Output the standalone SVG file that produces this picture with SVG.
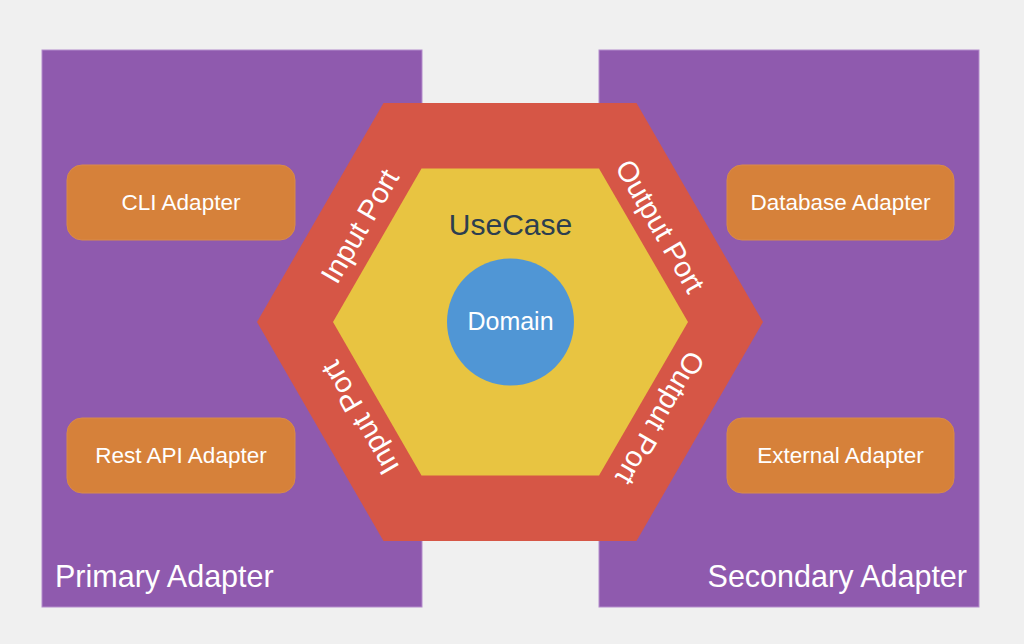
<svg xmlns="http://www.w3.org/2000/svg" width="1024" height="644" viewBox="0 0 1024 644">
  <style>
    text { font-family: "Liberation Sans", Arial, Helvetica, sans-serif; }
    .zone { fill: #8f5aae; stroke: #b48ccc; stroke-width: 1; }
    .zone-label { fill: #ffffff; font-size: 30.5px; }
    .adapter { fill: #d6813a; stroke: #d98a4a; stroke-width: 1; }
    .adapter-label { fill: #ffffff; font-size: 22.5px; text-anchor: middle; }
    .port { fill: #d65646; }
    .usecase { fill: #e8c441; }
    .domain { fill: #5096d5; }
    .port-label { fill: #ffffff; font-size: 29px; text-anchor: middle; }
  </style>
  <rect x="0" y="0" width="1024" height="644" fill="#f0f0f0"/>

  <g id="primary-adapter">
    <rect class="zone" x="42" y="50" width="380" height="557"/>
    <text class="zone-label" x="55" y="587">Primary Adapter</text>
  </g>
  <g id="secondary-adapter">
    <rect class="zone" x="599" y="50" width="380" height="557"/>
    <text class="zone-label" x="967" y="587" text-anchor="end">Secondary Adapter</text>
  </g>

  <g id="cli-adapter">
    <rect class="adapter" x="67" y="165" width="228" height="75" rx="15"/>
    <text class="adapter-label" x="181" y="210">CLI Adapter</text>
  </g>
  <g id="rest-api-adapter">
    <rect class="adapter" x="67" y="418" width="228" height="75" rx="15"/>
    <text class="adapter-label" x="181" y="463">Rest API Adapter</text>
  </g>
  <g id="database-adapter">
    <rect class="adapter" x="727" y="165" width="227" height="75" rx="15"/>
    <text class="adapter-label" x="840.5" y="210">Database Adapter</text>
  </g>
  <g id="external-adapter">
    <rect class="adapter" x="727" y="418" width="227" height="75" rx="15"/>
    <text class="adapter-label" x="840.5" y="463">External Adapter</text>
  </g>

  <g id="ports">
    <polygon class="port" points="257,322 383.5,103 636.5,103 763,322 636.5,541 383.5,541"/>
    <text class="port-label" transform="translate(368.5,231.1) rotate(-60)">Input Port</text>
    <text class="port-label" transform="translate(368.5,412.9) rotate(-120)">Input Port</text>
    <text class="port-label" transform="translate(651.5,231.1) rotate(60)">Output Port</text>
    <text class="port-label" transform="translate(651.5,412.9) rotate(120)">Output Port</text>
  </g>

  <g id="usecase">
    <polygon class="usecase" points="333,322 421.5,168.5 599,168.5 688,322 599,475.5 421.5,475.5"/>
    <text x="510.5" y="235" font-size="30" fill="#2c3e50" text-anchor="middle">UseCase</text>
  </g>

  <g id="domain">
    <circle class="domain" cx="510.5" cy="322" r="63.5"/>
    <text x="510.5" y="330" font-size="25" fill="#ffffff" text-anchor="middle">Domain</text>
  </g>

  <g id="connectors"/>
</svg>
